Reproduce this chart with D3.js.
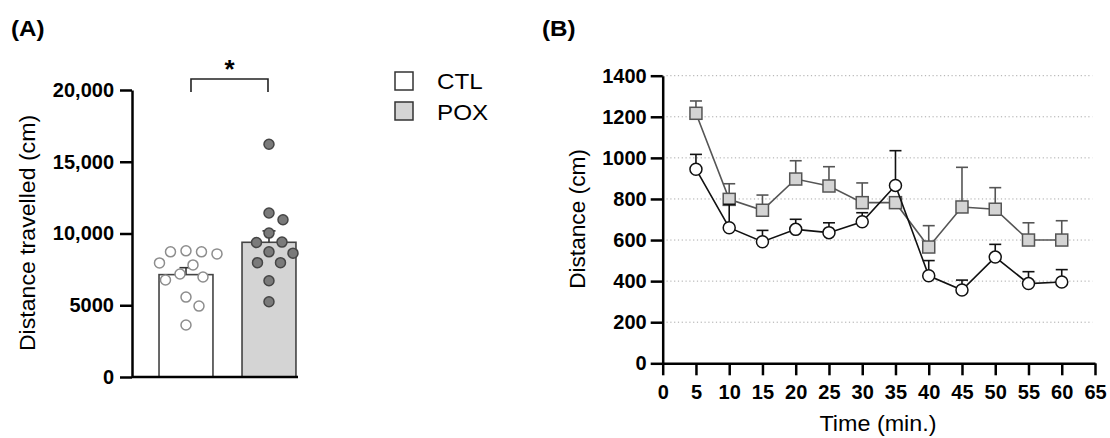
<!DOCTYPE html>
<html>
<head>
<meta charset="utf-8">
<script src="https://cdn.jsdelivr.net/npm/d3@7"></script>
<style>
  body { margin: 0; background: #fff; }
  svg { font-family: "Liberation Sans", Arial, sans-serif; }
</style>
</head>
<body>
<div class="viz"></div>
<script>
// panel A: individual animals
const groups = ['CTL', 'POX']
const ctlDist = [8790, 8580, 8720, 8720, 7950, 7810, 6760, 6970, 7180, 5570, 4940, 3620]
const poxDist = [16220, 11430, 10960, 10030, 9370, 9400, 8720, 8630, 7970, 7970, 6710, 5240]
const yTicksA = [0, 5000, 10000, 15000, 20000]
const yTickLabelsA = ['0', '5000', '10,000', '15,000', '20,000']

// panel B: time course (mean, SEM)
const times = [5, 10, 15, 20, 25, 30, 35, 40, 45, 50, 55, 60]
const ctlMean = [945, 660, 592, 652, 636, 689, 866, 426, 357, 517, 388, 396]
const ctlSem = [72, 114, 55, 49, 48, 44, 169, 74, 48, 62, 58, 60]
const poxMean = [1217, 798, 745, 897, 863, 782, 782, 566, 761, 750, 600, 600]
const poxSem = [60, 76, 74, 89, 94, 96, 15, 104, 193, 105, 84, 94]
const xTicksB = [0, 5, 10, 15, 20, 25, 30, 35, 40, 45, 50, 55, 60, 65]
const yTicksB = [0, 200, 400, 600, 800, 1000, 1200, 1400]

const width = 1110
const height = 438

const svg = d3.select('.viz').append('svg')
  .attr('width', width).attr('height', height)

svg.append('rect').attr('width', width).attr('height', height).attr('fill', '#fff')

// the reference labels run a little wider than Arial
const widen = (sel, k) => {
  sel.each(function () {
    const w = this.getComputedTextLength()
    d3.select(this).attr('textLength', w * k).attr('lengthAdjust', 'spacingAndGlyphs')
  })
}

const styleAxis = (g) => {
  g.select('.domain').attr('stroke', '#000').attr('stroke-width', 2.5)
  g.selectAll('.tick line').attr('stroke', '#000').attr('stroke-width', 2.5)
  g.selectAll('.tick text')
    .attr('fill', '#000')
    .style('font-size', '20px')
    .style('font-weight', 'bold')
    .style('font-family', '"Liberation Sans", Arial, sans-serif')
}

// ---------------- panel A ----------------
const yA = d3.scaleLinear().domain([0, 20000]).range([377, 90])
const xA = d3.scaleBand().domain(groups).range([132, 298])
  .paddingInner(0.35).paddingOuter(0.175).align(0.93)

const barData = [
  { g: 'CTL', vals: ctlDist, fill: '#fff', dot: '#fff', dotStroke: '#8d8d8d' },
  { g: 'POX', vals: poxDist, fill: '#d4d4d4', dot: '#7a7a7a', dotStroke: '#454545' }
].map(d => ({
  ...d,
  mean: d3.mean(d.vals),
  sem: d3.deviation(d.vals) / Math.sqrt(d.vals.length)
}))

const gA = svg.append('g')

gA.selectAll('rect.bar')
  .data(barData)
  .enter()
  .append('rect')
  .attr('class', 'bar')
  .attr('x', d => xA(d.g))
  .attr('y', d => yA(d.mean))
  .attr('width', xA.bandwidth())
  .attr('height', d => yA(0) - yA(d.mean))
  .attr('fill', d => d.fill)
  .attr('stroke', '#444')
  .attr('stroke-width', 1.6)

// upward error bars
barData.forEach(d => {
  const cx = xA(d.g) + xA.bandwidth() / 2
  gA.append('line')
    .attr('x1', cx).attr('x2', cx)
    .attr('y1', yA(d.mean)).attr('y2', yA(d.mean + d.sem))
    .attr('stroke', '#333').attr('stroke-width', 1.6)
  gA.append('line')
    .attr('x1', cx - 6.5).attr('x2', cx + 6.5)
    .attr('y1', yA(d.mean + d.sem)).attr('y2', yA(d.mean + d.sem))
    .attr('stroke', '#333').attr('stroke-width', 1.6)
})

// simple beeswarm so the dots do not overlap
const swarm = (vals, cx) => {
  const placed = []
  const minDist = 15.5
  const sorted = vals.slice().sort((a, b) => b - a)
  sorted.forEach(v => {
    const y = yA(v)
    let best = null
    for (let s = 0; s <= 40; s += 0.5) {
      for (const off of (s === 0 ? [0] : [s, -s])) {
        const ok = placed.every(p => Math.hypot(p.x - (cx + off), p.y - y) >= minDist)
        if (ok) { best = off; break }
      }
      if (best !== null) break
    }
    placed.push({ x: cx + best, y, v })
  })
  return placed
}

barData.forEach(d => {
  const pts = swarm(d.vals, xA(d.g) + xA.bandwidth() / 2)
  gA.selectAll(null)
    .data(pts)
    .enter()
    .append('circle')
    .attr('cx', p => p.x)
    .attr('cy', p => p.y)
    .attr('r', 5)
    .attr('fill', d.dot)
    .attr('stroke', d.dotStroke)
    .attr('stroke-width', 1.5)
})

const axA = gA.append('g')
  .attr('transform', 'translate(132,0)')
  .call(d3.axisLeft(yA).tickValues(yTicksA)
    .tickFormat((d, i) => yTickLabelsA[i]).tickSize(12).tickPadding(6).tickSizeOuter(0))
styleAxis(axA)

gA.append('line')
  .attr('x1', 132).attr('x2', 298)
  .attr('y1', yA(0)).attr('y2', yA(0))
  .attr('stroke', '#000').attr('stroke-width', 2.5)

// significance bracket
const bx1 = xA('CTL') + xA.bandwidth() / 2 + 5
const bx2 = xA('POX') + xA.bandwidth() / 2 - 1
gA.append('path')
  .attr('d', `M${bx1},92 V79 H${bx2} V92`)
  .attr('fill', 'none').attr('stroke', '#222').attr('stroke-width', 1.6)
gA.append('text')
  .text('*')
  .attr('x', (bx1 + bx2) / 2)
  .attr('y', 78)
  .attr('text-anchor', 'middle')
  .style('font-size', '26px')
  .style('font-weight', 'bold')

const yLabA = gA.append('text')
  .text('Distance travelled (cm)')
  .attr('transform', 'translate(35,233) rotate(-90)')
  .attr('text-anchor', 'middle')
  .style('font-size', '22px')
widen(yLabA, 1.05)

const titleA = svg.append('text').text('(A)')
  .attr('x', 11).attr('y', 36)
  .style('font-size', '22px').style('font-weight', 'bold')
widen(titleA, 1.1)

// legend
const legend = svg.append('g')
barData.forEach((d, i) => {
  legend.append('rect')
    .attr('x', 395).attr('y', 72 + i * 30)
    .attr('width', 18).attr('height', 18)
    .attr('fill', d.fill).attr('stroke', '#333').attr('stroke-width', 1.5)
  const t = legend.append('text')
    .text(d.g)
    .attr('x', 437).attr('y', 89 + i * 31)
    .style('font-size', '22px')
  widen(t, 1.1)
})

// ---------------- panel B ----------------
const xB = d3.scaleLinear().domain([0, 65]).range([662.7, 1095])
const yB = d3.scaleLinear().domain([0, 1400]).range([363.3, 75.7])

const gB = svg.append('g')

gB.selectAll('line.grid')
  .data(yTicksB.filter(d => d > 0))
  .enter()
  .append('line')
  .attr('class', 'grid')
  .attr('x1', xB(0)).attr('x2', xB(64.6))
  .attr('y1', d => yB(d)).attr('y2', d => yB(d))
  .attr('stroke', '#a8a8a8')
  .attr('stroke-width', 1)
  .attr('stroke-dasharray', '1.2,2.6')

const axBy = gB.append('g')
  .attr('transform', `translate(${xB(0)},0)`)
  .call(d3.axisLeft(yB).tickValues(yTicksB).tickFormat(d3.format('d'))
    .tickSize(12).tickPadding(4).tickSizeOuter(0))
styleAxis(axBy)

const axBx = gB.append('g')
  .attr('transform', `translate(0,${yB(0)})`)
  .call(d3.axisBottom(xB).tickValues(xTicksB).tickSize(12).tickPadding(10).tickSizeOuter(0))
styleAxis(axBx)

const seriesB = [
  { mean: poxMean, sem: poxSem, color: '#555', shape: 'square' },
  { mean: ctlMean, sem: ctlSem, color: '#111', shape: 'circle' }
].map(s => ({ ...s, pts: times.map((t, i) => ({ t, m: s.mean[i], e: s.sem[i] })) }))

const line = d3.line().x(d => xB(d.t)).y(d => yB(d.m))

seriesB.forEach(s => {
  const g = gB.append('g')
  g.append('path')
    .datum(s.pts)
    .attr('d', line)
    .attr('fill', 'none')
    .attr('stroke', s.color)
    .attr('stroke-width', 1.6)

  const eb = g.selectAll(null).data(s.pts).enter().append('g')
  eb.append('line')
    .attr('x1', d => xB(d.t)).attr('x2', d => xB(d.t))
    .attr('y1', d => yB(d.m)).attr('y2', d => yB(d.m + d.e))
    .attr('stroke', s.color).attr('stroke-width', 1.6)
  eb.append('line')
    .attr('x1', d => xB(d.t) - 6).attr('x2', d => xB(d.t) + 6)
    .attr('y1', d => yB(d.m + d.e)).attr('y2', d => yB(d.m + d.e))
    .attr('stroke', s.color).attr('stroke-width', 1.6)

  if (s.shape === 'square') {
    g.selectAll(null).data(s.pts).enter().append('rect')
      .attr('x', d => xB(d.t) - 6).attr('y', d => yB(d.m) - 6)
      .attr('width', 12).attr('height', 12)
      .attr('fill', '#d4d4d4').attr('stroke', '#555').attr('stroke-width', 1.5)
  } else {
    g.selectAll(null).data(s.pts).enter().append('circle')
      .attr('cx', d => xB(d.t)).attr('cy', d => yB(d.m))
      .attr('r', 6)
      .attr('fill', '#fff').attr('stroke', '#111').attr('stroke-width', 1.5)
  }
})

const yLabB = gB.append('text')
  .text('Distance (cm)')
  .attr('transform', 'translate(585,219) rotate(-90)')
  .attr('text-anchor', 'middle')
  .style('font-size', '22px')
widen(yLabB, 1.03)

const xLabB = gB.append('text')
  .text('Time (min.)')
  .attr('x', 878).attr('y', 431)
  .attr('text-anchor', 'middle')
  .style('font-size', '22px')
widen(xLabB, 1.06)

const titleB = svg.append('text').text('(B)')
  .attr('x', 542).attr('y', 36)
  .style('font-size', '22px').style('font-weight', 'bold')
widen(titleB, 1.1)
</script>
</body>
</html>
